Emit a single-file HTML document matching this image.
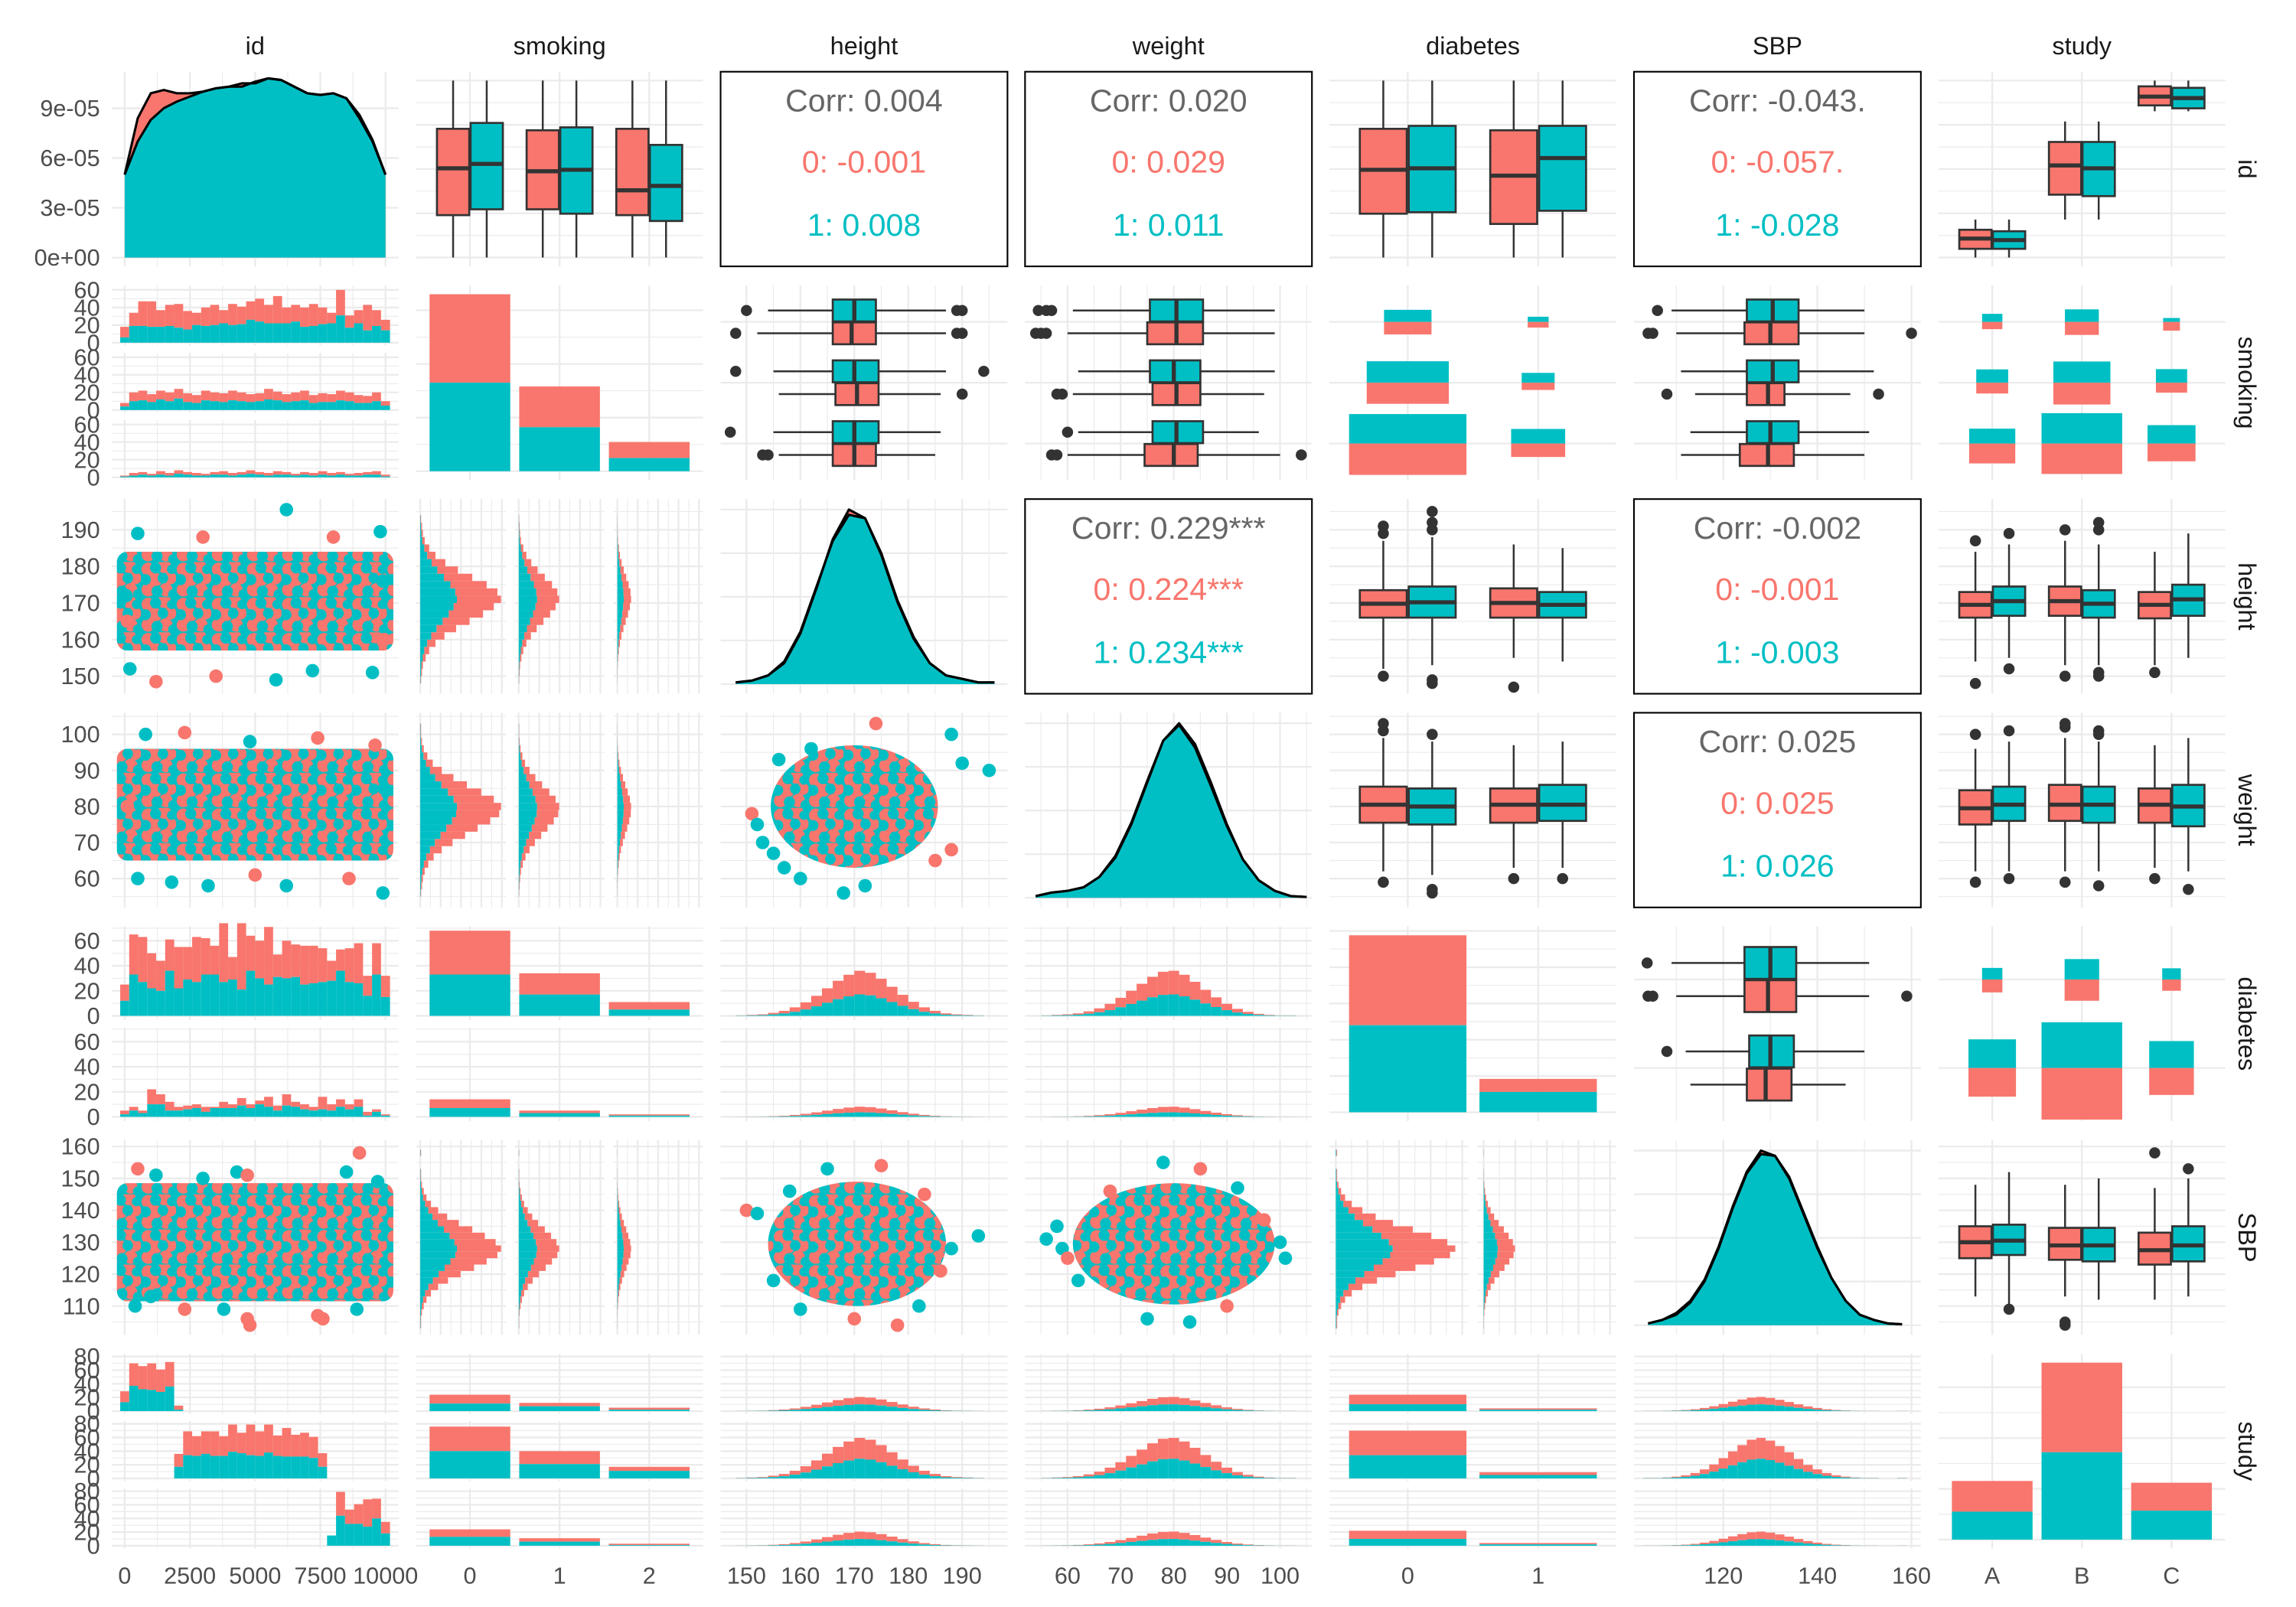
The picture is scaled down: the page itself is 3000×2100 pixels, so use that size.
<!DOCTYPE html>
<html><head><meta charset="utf-8"><title>Pairs plot</title>
<style>
html,body{margin:0;padding:0;background:#fff;}
svg{display:block;}
text{font-family:"Liberation Sans",Arial,sans-serif;}
</style></head>
<body>
<svg id="chart" width="3000" height="2100" viewBox="0 0 1568 1098">
<defs>
<pattern id="mix" width="24" height="24" patternUnits="userSpaceOnUse">
<rect width="24" height="24" fill="#00BFC4"/>
<circle cx="5" cy="5" r="4.6" fill="#F8766D"/>
<circle cx="16" cy="3" r="4.6" fill="#F8766D"/>
<circle cx="10" cy="12" r="4.6" fill="#F8766D"/>
<circle cx="20" cy="11" r="4.3" fill="#F8766D"/>
<circle cx="5" cy="19" r="4.6" fill="#F8766D"/>
<circle cx="17" cy="19" r="4.6" fill="#F8766D"/>
<circle cx="10" cy="4" r="3.8" fill="#00BFC4"/>
<circle cx="3" cy="12" r="3.8" fill="#00BFC4"/>
<circle cx="15" cy="11" r="3.6" fill="#00BFC4"/>
<circle cx="11" cy="20" r="3.8" fill="#00BFC4"/>
<circle cx="21" cy="5" r="3.2" fill="#00BFC4"/>
<circle cx="22" cy="22" r="3.4" fill="#00BFC4"/>
</pattern>
</defs>
</svg>
<script>
const NS='http://www.w3.org/2000/svg';
const svg=document.getElementById('chart');
const RED='#F8766D', TEAL='#00BFC4', DARK='#333333';
const PX0=76, PY0=49, SX=208, SY=146, PW=196, PH=133;

// ---------- DATA ----------
const VARS=['id','smoking','height','weight','diabetes','SBP','study'];
const LEVELS={smoking:['0','1','2'],diabetes:['0','1'],study:['A','B','C']};
const XDOM={id:[-500,10500],height:[145.2,198.4],weight:[52,106],SBP:[101,162]};
const XMAJ={id:[0,2500,5000,7500,10000],height:[150,160,170,180,190],weight:[60,70,80,90,100],SBP:[120,140,160]};
const YMAJ={id:[0,2500,5000,7500,10000],height:[150,160,170,180,190],weight:[60,70,80,90,100],SBP:[110,120,130,140,150,160]};
const XLABELS={id:['0','2500','5000','7500','10000'],height:['150','160','170','180','190'],weight:['60','70','80','90','100'],SBP:['120','140','160']};

// densities
const idDensGrid=[0,500,1000,1500,2000,2500,3000,3500,4000,4500,5000,5500,6000,6500,7000,7500,8000,8500,9000,9500,10000];
const idDensRed=[5.0,8.4,9.9,10.1,9.9,9.9,10.0,10.2,10.3,10.5,10.5,10.8,10.7,10.3,9.9,9.8,9.9,9.6,8.6,7.1,5.0];
const idDensTeal=[5.0,7.0,8.3,9.0,9.4,9.7,10.0,10.2,10.3,10.3,10.6,10.8,10.7,10.3,9.9,9.8,9.9,9.6,8.4,7.0,5.0];
const idDensTicks=[0,3,6,9];
const idDensTickLabels=['0e+00','3e-05','6e-05','9e-05'];
const heightDensGrid=[148,151,154,157,160,163,166,169,172,175,178,181,184,187,190,193,196];
const heightDensRed=[0.01,0.02,0.05,0.12,0.29,0.55,0.83,1.0,0.95,0.74,0.47,0.26,0.12,0.05,0.03,0.01,0.01];
const heightDensTeal=[0.01,0.02,0.05,0.13,0.30,0.56,0.82,0.97,0.95,0.75,0.48,0.27,0.12,0.05,0.03,0.01,0.01];
const weightDensGrid=[54,57,60,63,66,69,72,75,78,81,84,87,90,93,96,99,102,105];
const weightDensRed=[0.01,0.03,0.04,0.06,0.12,0.23,0.42,0.66,0.9,1.0,0.88,0.66,0.42,0.22,0.1,0.04,0.01,0.005];
const weightDensTeal=[0.01,0.03,0.04,0.06,0.12,0.24,0.43,0.67,0.9,0.99,0.86,0.64,0.41,0.22,0.1,0.04,0.01,0.005];
const sbpDensGrid=[104,107,110,113,116,119,122,125,128,131,134,137,140,143,146,149,152,155,158];
const sbpDensRed=[0.01,0.03,0.07,0.14,0.26,0.45,0.68,0.88,1.0,0.97,0.84,0.64,0.44,0.27,0.14,0.06,0.03,0.01,0.005];
const sbpDensTeal=[0.01,0.03,0.06,0.13,0.25,0.44,0.67,0.87,0.98,0.97,0.85,0.65,0.45,0.27,0.14,0.06,0.03,0.01,0.005];

// histogram shapes (bin counts, full sample)
const heightShape=[1,2,3,6,10,17,27,40,55,70,82,90,86,74,58,42,28,17,10,5,3,2,1,0];
const heightBin0=148, heightBinW=2;
const weightShape=[1,2,3,5,9,15,24,36,50,64,78,88,90,82,68,52,37,24,14,8,4,2,1,1,0];
const weightBin0=55, weightBinW=2;
const sbpShape=[1,1,2,4,7,12,20,31,45,60,74,86,90,84,72,58,43,30,20,12,7,4,2,1,1,0,0,1];
const sbpBin0=103, sbpBinW=2;
const shareSmokRed=[0.24,0.12,0.04], shareSmokTeal=[0.2,0.1,0.035];
const shareDiabHRed=[0.22,0.06], shareDiabHTeal=[0.2,0.05];
const shareDiabVRed=[0.21,0.05], shareDiabVTeal=[0.19,0.04];
const shareStudyRed=[0.12,0.34,0.12], shareStudyTeal=[0.11,0.32,0.11];

// id histograms (30 bins)
const idSmokTot=[[18,34,47,47,37,43,44,36,34,40,43,37,44,41,47,50,43,53,40,43,40,44,40,34,60,31,37,43,37,26],
 [8,20,22,18,22,20,24,19,17,22,20,19,22,20,18,19,24,21,18,20,22,17,19,18,22,20,17,16,20,10],
 [2,5,6,4,7,5,8,6,5,4,6,7,5,6,8,6,5,7,6,4,6,5,7,5,6,4,5,6,7,3]];
const idSmokTeal=[[6,19,19,18,18,19,17,15,20,19,20,22,20,21,26,24,22,22,22,24,18,19,21,22,31,17,22,14,19,14],
 [4,10,11,9,12,10,13,9,8,11,10,9,11,10,9,10,12,11,9,10,11,8,9,9,11,10,8,8,10,5],
 [1,2,3,2,3,2,4,3,2,2,3,3,2,3,4,3,2,3,3,2,3,2,3,2,3,2,2,3,3,1]];
const idDiabTot=[[25,65,63,50,44,61,55,55,63,62,56,74,47,74,64,60,71,49,60,57,56,56,54,44,53,54,58,32,58,32],
 [5,8,5,22,18,12,8,9,10,8,8,12,10,15,10,13,16,9,18,12,10,8,16,10,14,10,14,4,6,2]];
const idDiabTeal=[[12,33,27,22,20,36,22,29,27,33,33,27,29,21,36,30,25,31,30,31,25,26,27,28,36,27,26,16,33,15],
 [2,5,3,10,10,5,5,6,7,4,7,7,7,9,7,10,8,5,9,8,6,5,6,5,8,6,8,1,4,1]];
const idStudyTot=[[29,70,66,70,61,72,8,0,0,0,0,0,0,0,0,0,0,0,0,0,0,0,0,0,0,0,0,0,0,0],
 [0,0,0,0,0,0,36,69,62,69,69,62,79,67,79,69,79,63,74,64,67,61,37,0,0,0,0,0,0,0],
 [0,0,0,0,0,0,0,0,0,0,0,0,0,0,0,0,0,0,0,0,0,0,0,15,79,53,61,68,69,35]];
const idStudyTeal=[[13,37,32,31,28,36,2,0,0,0,0,0,0,0,0,0,0,0,0,0,0,0,0,0,0,0,0,0,0,0],
 [0,0,0,0,0,0,17,34,33,36,33,33,39,37,34,33,38,33,32,32,32,30,17,0,0,0,0,0,0,0],
 [0,0,0,0,0,0,0,0,0,0,0,0,0,0,0,0,0,0,0,0,0,0,0,15,44,32,32,28,40,18]];

// bar charts
const smokTot=[660,316,109], smokTeal=[330,164,49];
const diabTot=[1220,230], diabTeal=[600,140];
const studyTot=[231,697,224], studyTeal=[110,344,114];
const smokByDiabTot=[[68,34,11],[14,5,2]], smokByDiabTeal=[[33,17,5],[7,3,1]];
const smokByStudyTot=[[24,12,5],[76,40,17],[24,11,3]], smokByStudyTeal=[[11,7,2],[40,21,11],[13,6,1]];
const diabByStudyTot=[[24,4],[70,9],[22,4]], diabByStudyTeal=[[10,2],[34,5],[10,2]];

// ratio plots [yLevel][xLevel]
const ratioSmokDiabRed=[[340,67],[160,22],[55,11]], ratioSmokDiabTeal=[[320,73],[163,30],[53,10]];
const ratioSmokStudyRed=[[56,150,52],[21,76,19],[9,27,9]], ratioSmokStudyTeal=[[42,150,54],[26,74,26],[10,26,4]];
const ratioDiabStudyRed=[[52,159,46],[10,28,8]], ratioDiabStudyTeal=[[52,141,46],[9,27,8]];

// boxplots: [level][red,teal] = [lo,q1,med,q3,hi]
const boxIdSmok=[[[0,2395,5041,7274,10000],[0,2725,5289,7605,10000]],[[0,2725,4876,7191,10000],[0,2477,4958,7357,10000]],[[0,2395,3800,7274,10000],[0,2064,4049,6364,10000]]];
const boxIdDiab=[[[0,2477,4958,7274,10000],[0,2560,5041,7439,10000]],[[0,1898,4627,7191,10000],[0,2643,5620,7439,10000]]];
const boxIdStudy=[[[0,492,1071,1568,2146],[0,492,985,1485,2146]],[[2146,3552,5206,6530,7687],[2146,3470,5041,6530,7687]],[[8266,8597,9093,9672,10000],[8266,8432,9010,9589,10000]]];
const boxHtDiab=[[[152,166,169.8,173.5,187],[153,166,170.2,174.5,188]],[[155,166,170,174,186],[154,166,169.5,173,185]]];
const outHtDiab=[[[150,189,191],[149,148,190,192,195]],[[147],[]]];
const boxHtStudy=[[[154,166,169.5,173,184],[155,166.5,170.5,174.5,186]],[[153,166.5,170.5,174.5,187],[153,166,169.8,173.5,186]],[[153,165.8,169.5,173,184],[155,166.5,171,175,189]]];
const outHtStudy=[[[148,187],[152,189]],[[150,190],[150,151,190,192]],[[151],[]]];
const boxWtDiab=[[[62,75.5,80.5,85.5,99],[61,75,80,85,98]],[[63,75.5,80.5,85,97],[63,76,80.5,86,98]]];
const outWtDiab=[[[59,101,103],[57,56,100]],[[60],[60]]];
const boxWtStudy=[[[62,75,79.5,84.5,96],[62,76,80.5,85.5,98]],[[62,76,80.5,86,99],[62,75.5,80.5,85.5,98]],[[63,75.5,80.5,85,97],[62,74.5,80,86,99]]];
const outWtStudy=[[[59,100],[60,101]],[[59,103,102],[58,101,100]],[[60],[57]]];
const boxSbpStudy=[[[113,125,130,135,148],[110,126,130.5,135.5,152]],[[113,124.5,129,134.5,148],[112,124,129,134.5,150]],[[112,123,127.5,133,147],[113,124,129,135,150]]];
const outSbpStudy=[[[],[109]],[[104,105],[]],[[158],[153]]];
// horizontal boxes (level index 0 = bottom)
const hboxHtSmok=[[[156,166,170,174,185],[155,166,170,174.5,186]],[[156,166.5,170.5,174.5,186],[155,166,170,174.5,187]],[[152,166,169.5,174,187],[154,166,170,174,187]]];
const houtHtSmok=[[[153,154],[147]],[[190],[148,194]],[[148,189,190],[150,189,190]]];
const hboxWtSmok=[[[60,74.5,80,84.5,100],[62,76,80.5,85.5,96]],[[61,76,80.5,85,97],[62,75.5,80,85,99]],[[60,75,80.5,85.5,99],[61,75.5,80.5,85.5,99]]];
const houtWtSmok=[[[57,58,104],[60]],[[58,59],[]],[[54,55,56],[54.5,56,57]]];
const hboxSbpSmok=[[[111,123.5,129.5,135,150],[113,125,130,136,151]],[[114,125,129.5,133,147],[111,125,130.5,136,152]],[[110,124.5,130,136,150],[109,125,130.5,136,150]]];
const houtSbpSmok=[[[],[]],[[108,153],[]],[[104,105,160],[106]]];
const hboxSbpDiab=[[[113,125,129,134.5,146],[112,125.5,130,135,150]],[[110,124.5,129.5,135.5,151],[109,124.5,130,135.5,151]]];
const houtSbpDiab=[[[],[108]],[[104,105,159],[103.8]]];

// correlations
const corrText={'0-2':['Corr: 0.004','0: -0.001','1: 0.008'],'0-3':['Corr: 0.020','0: 0.029','1: 0.011'],'0-5':['Corr: -0.043.','0: -0.057.','1: -0.028'],
 '2-3':['Corr: 0.229***','0: 0.224***','1: 0.234***'],'2-5':['Corr: -0.002','0: -0.001','1: -0.003'],'3-5':['Corr: 0.025','0: 0.025','1: 0.026']};

// scatter clouds [cx,cy,rx,ry] in data units, and outlier points
const cloudIdHt=[5000,170.5,5300,13.5], cloudIdWt=[5000,80.5,5300,15.5], cloudIdSbp=[5000,130,5300,18.5];
const cloudHtWt=[170,80,15.5,17], cloudHtSbp=[170.5,129.5,16.5,19.5], cloudWtSbp=[80,129.5,19,19];
const ptIdHtX=[6200,500,9800,3000,8000,1200,5800,200,9500,3500,7200,100,9900,50,9950], ptIdHtY=[195.5,189,189.5,188,188,148.5,149,152,151,150,151.5,165,176,172,160], ptIdHtC=[1,1,1,0,0,0,1,1,1,0,1,0,1,1,0];
const ptIdWtX=[800,2300,9600,4800,7400,1800,3200,6200,9900,500,8600,5000,100,9950], ptIdWtY=[100,100.5,97,98,99,59,58,58,56,60,60,61,80,85], ptIdWtC=[1,0,0,1,0,1,1,1,1,1,0,0,0,1];
const ptIdSbpX=[500,1200,9000,8500,3000,4300,4700,9700,4800,4700,7400,7600,400,2300,3800,8900,1000], ptIdSbpY=[153,151,158,152,150,152,151,149,104,106,107,106,110,109,109,109,113], ptIdSbpC=[0,1,0,1,1,1,0,1,0,0,0,0,1,0,1,1,1];
const ptHtWtX=[174,188,195,190,151,152,153,155,157,160,168,172,185,188,162,156], ptHtWtY=[103,100,90,92,78,75,70,67,63,60,56,58,65,68,96,93], ptHtWtC=[0,1,1,1,0,1,1,1,1,1,1,1,0,0,1,1];
const ptHtSbpX=[150,152,193,188,165,175,170,178,160,182,155,186,158,183], ptHtSbpY=[140,139,132,128,153,154,106,104,109,110,118,121,146,145], ptHtSbpC=[0,1,1,1,1,0,0,0,1,1,1,0,1,0];
const ptWtSbpX=[56,58,59,60,62,100,101,97,78,85,75,83,90,68,92], ptWtSbpY=[131,135,128,125,118,130,125,137,155,153,106,105,110,146,147], ptWtSbpC=[1,1,1,0,1,1,1,0,1,0,1,1,0,0,1];

// ---------- HELPERS ----------
function add(parent, tag, attrs, name){
  const e=document.createElementNS(NS,tag);
  for(const k in attrs) e.setAttribute(k,attrs[k]);
  
  
  parent.appendChild(e);
  return e;
}
function lin(d0,d1,r0,r1){return v=>r0+(v-d0)/(d1-d0)*(r1-r0);}
function discX(x0,w,n){return i=>x0+(i+0.6)/(n+0.2)*w;}
function discY(y0,h,n){return i=>y0+h-(i+0.6)/(n+0.2)*h;}
function minorsOf(maj,dom){const s=maj[1]-maj[0];const r=[];for(let v=maj[0]-s/2;v<=dom[1];v+=s){if(v>=dom[0])r.push(v);}return r;}
function gridLines(g,x0,y0,w,h,xmaj,xmin,ymaj,ymin){
  xmin.forEach(x=>add(g,'line',{x1:x,x2:x,y1:y0,y2:y0+h,stroke:'#EBEBEB','stroke-width':0.6},'grid-minor-x'));
  ymin.forEach(y=>add(g,'line',{x1:x0,x2:x0+w,y1:y,y2:y,stroke:'#EBEBEB','stroke-width':0.6},'grid-minor-y'));
  xmaj.forEach(x=>add(g,'line',{x1:x,x2:x,y1:y0,y2:y0+h,stroke:'#EBEBEB','stroke-width':1.2},'grid-major-x'));
  ymaj.forEach(y=>add(g,'line',{x1:x0,x2:x0+w,y1:y,y2:y,stroke:'#EBEBEB','stroke-width':1.2},'grid-major-y'));
}
function contXSpec(v,x0,w){const f=lin(XDOM[v][0],XDOM[v][1],x0,x0+w);return {f,maj:XMAJ[v].map(f),min:minorsOf(XMAJ[v],XDOM[v]).map(f)};}
function contYSpec(v,y0,h){const f=lin(XDOM[v][0],XDOM[v][1],y0+h,y0);return {f,maj:YMAJ[v].map(f),min:minorsOf(YMAJ[v],XDOM[v]).map(f)};}
function discXSpec(v,x0,w){const n=LEVELS[v].length;const f=discX(x0,w,n);return {f,maj:LEVELS[v].map((_,i)=>f(i)),min:[],du:w/(n+0.2)};}
function discYSpec(v,y0,h){const n=LEVELS[v].length;const f=discY(y0,h,n);return {f,maj:LEVELS[v].map((_,i)=>f(i)),min:[],du:h/(n+0.2)};}
function facetsV(y0,n){const gap=5,fh=(PH-gap*(n-1))/n;const r=[];for(let k=0;k<n;k++)r.push({y:y0+k*(fh+gap),h:fh});return r;}
function facetsH(x0,n){const gap=6,fw=(PW-gap*(n-1))/n;const r=[];for(let k=0;k<n;k++)r.push({x:x0+k*(fw+gap),w:fw});return r;}
function countMaj(R){const m=[];for(let v=0;v<=R;v+=20)m.push(v);return m;}
function countMin(R){const m=[];for(let v=10;v<=R*1.05;v+=20)m.push(v);return m;}

// ---------- PANELS ----------
function densityPanel(g,x0,y0,v,grid,red,teal,dom,ymaj){
  const X=contXSpec(v,x0,PW);
  const Y=lin(dom[0],dom[1],y0+PH,y0);
  gridLines(g,x0,y0,PW,PH,X.maj,X.min,ymaj.map(Y),[]);
  [[red,RED,'density-area-0'],[teal,TEAL,'density-area-1']].forEach(([vals,col,nm])=>{
    let d='M'+X.f(grid[0])+','+Y(0);
    grid.forEach((gx,i)=>{d+=' L'+X.f(gx).toFixed(2)+','+Y(vals[i]).toFixed(2);});
    d+=' L'+X.f(grid[grid.length-1])+','+Y(0)+' Z';
    add(g,'path',{d,fill:col},nm);
  });
  [[red,'density-line-0'],[teal,'density-line-1']].forEach(([vals,nm])=>{
    let d='';
    grid.forEach((gx,i)=>{d+=(i?' L':'M')+X.f(gx).toFixed(2)+','+Y(vals[i]).toFixed(2);});
    add(g,'path',{d,fill:'none',stroke:'#000','stroke-width':1.6,'stroke-linejoin':'round'},nm);
  });
}
function drawVBox(g,cx,bw,Y,s,col,outs,nm){
  add(g,'line',{x1:cx,x2:cx,y1:Y(s[0]),y2:Y(s[1]),stroke:DARK,'stroke-width':1.3},nm+'-whisker-low');
  add(g,'line',{x1:cx,x2:cx,y1:Y(s[3]),y2:Y(s[4]),stroke:DARK,'stroke-width':1.3},nm+'-whisker-high');
  add(g,'rect',{x:cx-bw/2,y:Y(s[3]),width:bw,height:Y(s[1])-Y(s[3]),fill:col,stroke:DARK,'stroke-width':1.4},nm+'-box');
  add(g,'line',{x1:cx-bw/2,x2:cx+bw/2,y1:Y(s[2]),y2:Y(s[2]),stroke:DARK,'stroke-width':2.8},nm+'-median');
  (outs||[]).forEach(o=>add(g,'circle',{cx,cy:Y(o),r:3.8,fill:DARK},nm+'-outlier'));
}
function drawHBox(g,cy,bh,X,s,col,outs,nm){
  add(g,'line',{y1:cy,y2:cy,x1:X(s[0]),x2:X(s[1]),stroke:DARK,'stroke-width':1.3},nm+'-whisker-low');
  add(g,'line',{y1:cy,y2:cy,x1:X(s[3]),x2:X(s[4]),stroke:DARK,'stroke-width':1.3},nm+'-whisker-high');
  add(g,'rect',{y:cy-bh/2,x:X(s[1]),height:bh,width:X(s[3])-X(s[1]),fill:col,stroke:DARK,'stroke-width':1.4},nm+'-box');
  add(g,'line',{y1:cy-bh/2,y2:cy+bh/2,x1:X(s[2]),x2:X(s[2]),stroke:DARK,'stroke-width':2.8},nm+'-median');
  (outs||[]).forEach(o=>add(g,'circle',{cy,cx:X(o),r:3.8,fill:DARK},nm+'-outlier'));
}
function vboxPanel(g,x0,y0,xv,yv,boxes,outs){
  const X=discXSpec(xv,x0,PW), Y=contYSpec(yv,y0,PH);
  gridLines(g,x0,y0,PW,PH,X.maj,X.min,Y.maj,Y.min);
  boxes.forEach((lv,i)=>{[0,1].forEach(k=>{
    const cx=X.f(i)+(k?0.1875:-0.1875)*X.du;
    drawVBox(g,cx,0.36*X.du,Y.f,lv[k],k?TEAL:RED,outs?outs[i][k]:[],'boxplot-'+LEVELS[xv][i]+'-'+k);
  });});
}
function hboxPanel(g,x0,y0,xv,yv,boxes,outs){
  const X=contXSpec(xv,x0,PW), Y=discYSpec(yv,y0,PH);
  gridLines(g,x0,y0,PW,PH,X.maj,X.min,Y.maj,Y.min);
  boxes.forEach((lv,i)=>{[0,1].forEach(k=>{
    const cy=Y.f(i)-(k?0.1875:-0.1875)*Y.du;
    drawHBox(g,cy,0.36*Y.du,X.f,lv[k],k?TEAL:RED,outs[i][k],'hboxplot-'+LEVELS[yv][i]+'-'+k);
  });});
}
function corrPanel(g,x0,y0,lines){
  add(g,'rect',{x:x0,y:y0,width:PW,height:PH,fill:'none',stroke:'#000','stroke-width':1.1},'corr-box');
  const cols=['#666666',RED,TEAL], offs=[27,69,112];
  lines.forEach((t,i)=>{const e=add(g,'text',{x:x0+PW/2,y:y0+offs[i],'text-anchor':'middle','font-size':21.5,fill:cols[i]},i?'corr-group-'+(i-1):'corr-overall');e.textContent=t;});
}
function scatterPanel(g,x0,y0,xv,yv,cloud,isRect,px,py,pc){
  const X=contXSpec(xv,x0,PW), Y=contYSpec(yv,y0,PH);
  gridLines(g,x0,y0,PW,PH,X.maj,X.min,Y.maj,Y.min);
  const cx=X.f(cloud[0]), cy=Y.f(cloud[1]);
  const rx=Math.abs(X.f(cloud[0]+cloud[2])-cx), ry=Math.abs(Y.f(cloud[1]+cloud[3])-cy);
  if(isRect) add(g,'rect',{x:cx-rx,y:cy-ry,width:2*rx,height:2*ry,rx:7,ry:7,fill:'url(#mix)'},'point-cloud');
  else add(g,'ellipse',{cx,cy,rx,ry,fill:'url(#mix)'},'point-cloud');
  px.forEach((v,i)=>add(g,'circle',{cx:X.f(v),cy:Y.f(py[i]),r:4.6,fill:pc[i]?TEAL:RED},'point'));
}
function barDiag(g,x0,y0,v,tot,teal,ymaj){
  const X=discXSpec(v,x0,PW); const R=Math.max(...tot);
  const Y=lin(-0.05*R,1.05*R,y0+PH,y0);
  gridLines(g,x0,y0,PW,PH,X.maj,[],ymaj.map(Y),ymaj.slice(0,-1).map(m=>Y(m+(ymaj[1]-ymaj[0])/2)));
  tot.forEach((t,i)=>{const bw=0.9*X.du,x=X.f(i)-bw/2;
    add(g,'rect',{x,y:Y(t),width:bw,height:Y(teal[i])-Y(t),fill:RED},'bar-'+LEVELS[v][i]+'-0');
    add(g,'rect',{x,y:Y(teal[i]),width:bw,height:Y(0)-Y(teal[i]),fill:TEAL},'bar-'+LEVELS[v][i]+'-1');
  });
}
function facetBars(g,x0,y0,xv,nF,R,tot,teal){
  const fs=facetsV(y0,nF);
  fs.forEach((f,k)=>{
    const X=discXSpec(xv,x0,PW); const Y=lin(-0.05*R,1.05*R,f.y+f.h,f.y);
    gridLines(g,x0,f.y,PW,f.h,X.maj,[],countMaj(R).map(Y),countMin(R).map(Y));
    tot[k].forEach((t,i)=>{const bw=0.9*X.du,x=X.f(i)-bw/2;
      add(g,'rect',{x,y:Y(t),width:bw,height:Y(teal[k][i])-Y(t),fill:RED},'facet-bar-0');
      add(g,'rect',{x,y:Y(teal[k][i]),width:bw,height:Y(0)-Y(teal[k][i]),fill:TEAL},'facet-bar-1');
    });
  });
}
function facetHistV(g,x0,y0,xv,nF,R,totArr,tealArr,binLeft,binW){
  const fs=facetsV(y0,nF);
  fs.forEach((f,k)=>{
    const X=contXSpec(xv,x0,PW); const Y=lin(-0.05*R,1.05*R,f.y+f.h,f.y);
    gridLines(g,x0,f.y,PW,f.h,X.maj,X.min,countMaj(R).map(Y),countMin(R).map(Y));
    totArr[k].forEach((t,i)=>{ if(t<=0)return;
      const xa=X.f(binLeft+i*binW), xb=X.f(binLeft+(i+1)*binW);
      add(g,'rect',{x:xa,y:Y(t),width:xb-xa,height:Y(tealArr[k][i])-Y(t),fill:RED},'hist-bar-0');
      add(g,'rect',{x:xa,y:Y(tealArr[k][i]),width:xb-xa,height:Y(0)-Y(tealArr[k][i]),fill:TEAL},'hist-bar-1');
    });
  });
}
function shapeHistV(g,x0,y0,xv,nF,R,shape,bin0,binW,shR,shT){
  const tot=[],tl=[];
  for(let k=0;k<nF;k++){tot.push(shape.map(s=>s*(shR[k]+shT[k])));tl.push(shape.map(s=>s*shT[k]));}
  facetHistV(g,x0,y0,xv,nF,R,tot,tl,bin0,binW);
}
function shapeHistH(g,x0,y0,yv,nF,R,shape,bin0,binW,shR,shT){
  const fs=facetsH(x0,nF);
  fs.forEach((f,k)=>{
    const Y=contYSpec(yv,y0,PH); const X=lin(-0.05*R,1.05*R,f.x,f.x+f.w);
    const cm=[0,10,20,30,40], cn=[5,15,25,35];
    gridLines(g,f.x,y0,f.w,PH,cm.map(X),cn.map(X),Y.maj,Y.min);
    shape.forEach((s,i)=>{ if(s<=0)return;
      const t=s*shT[k], tot=s*(shR[k]+shT[k]);
      const ya=Y.f(bin0+(i+1)*binW), yb=Y.f(bin0+i*binW);
      add(g,'rect',{x:X(0),y:ya,width:X(t)-X(0),height:yb-ya,fill:TEAL},'hhist-bar-1');
      add(g,'rect',{x:X(t),y:ya,width:X(tot)-X(t),height:yb-ya,fill:RED},'hhist-bar-0');
    });
  });
}
function ratioPanel(g,x0,y0,xv,yv,red,teal,h0){
  const X=discXSpec(xv,x0,PW), Y=discYSpec(yv,y0,PH);
  gridLines(g,x0,y0,PW,PH,X.maj,[],Y.maj,[]);
  let mx=0; red.forEach((row,j)=>row.forEach((r,i)=>{mx=Math.max(mx,r+teal[j][i]);}));
  red.forEach((row,j)=>row.forEach((r,i)=>{
    const t=teal[j][i], s=Math.sqrt((r+t)/mx);
    const w=0.9*X.du*s, h=h0*Y.du*s, tf=t/(r+t);
    const cx=X.f(i), cy=Y.f(j);
    add(g,'rect',{x:cx-w/2,y:cy-h*tf,width:w,height:h*tf,fill:TEAL},'ratio-cell-1');
    add(g,'rect',{x:cx-w/2,y:cy,width:w,height:h*(1-tf),fill:RED},'ratio-cell-0');
  }));
}

// ---------- BUILD ----------
function panelGroup(r,c){
  const g=add(svg,'g',{},'panel-'+VARS[r]+'-vs-'+VARS[c]);
  return [g,PX0+c*SX,PY0+r*SY];
}
let g,x0,y0;
// row 0 (id)
[g,x0,y0]=panelGroup(0,0); densityPanel(g,x0,y0,'id',idDensGrid,idDensRed,idDensTeal,[-0.53,11.2],[0,3,6,9]);
[g,x0,y0]=panelGroup(0,1); vboxPanel(g,x0,y0,'smoking','id',boxIdSmok,null);
[g,x0,y0]=panelGroup(0,2); corrPanel(g,x0,y0,corrText['0-2']);
[g,x0,y0]=panelGroup(0,3); corrPanel(g,x0,y0,corrText['0-3']);
[g,x0,y0]=panelGroup(0,4); vboxPanel(g,x0,y0,'diabetes','id',boxIdDiab,null);
[g,x0,y0]=panelGroup(0,5); corrPanel(g,x0,y0,corrText['0-5']);
[g,x0,y0]=panelGroup(0,6); vboxPanel(g,x0,y0,'study','id',boxIdStudy,null);
// row 1 (smoking)
[g,x0,y0]=panelGroup(1,0); facetHistV(g,x0,y0,'id',3,62,idSmokTot,idSmokTeal,-10000/58,10000/29);
[g,x0,y0]=panelGroup(1,1); barDiag(g,x0,y0,'smoking',smokTot,smokTeal,[0,200,400,600]);
[g,x0,y0]=panelGroup(1,2); hboxPanel(g,x0,y0,'height','smoking',hboxHtSmok,houtHtSmok);
[g,x0,y0]=panelGroup(1,3); hboxPanel(g,x0,y0,'weight','smoking',hboxWtSmok,houtWtSmok);
[g,x0,y0]=panelGroup(1,4); ratioPanel(g,x0,y0,'diabetes','smoking',ratioSmokDiabRed,ratioSmokDiabTeal,1.0);
[g,x0,y0]=panelGroup(1,5); hboxPanel(g,x0,y0,'SBP','smoking',hboxSbpSmok,houtSbpSmok);
[g,x0,y0]=panelGroup(1,6); ratioPanel(g,x0,y0,'study','smoking',ratioSmokStudyRed,ratioSmokStudyTeal,1.0);
// row 2 (height)
[g,x0,y0]=panelGroup(2,0); scatterPanel(g,x0,y0,'id','height',cloudIdHt,true,ptIdHtX,ptIdHtY,ptIdHtC);
[g,x0,y0]=panelGroup(2,1); shapeHistH(g,x0,y0,'height',3,40,heightShape,heightBin0,heightBinW,shareSmokRed,shareSmokTeal);
[g,x0,y0]=panelGroup(2,2); densityPanel(g,x0,y0,'height',heightDensGrid,heightDensRed,heightDensTeal,[-0.055,1.06],[0,0.25,0.5,0.75,1]);
[g,x0,y0]=panelGroup(2,3); corrPanel(g,x0,y0,corrText['2-3']);
[g,x0,y0]=panelGroup(2,4); vboxPanel(g,x0,y0,'diabetes','height',boxHtDiab,outHtDiab);
[g,x0,y0]=panelGroup(2,5); corrPanel(g,x0,y0,corrText['2-5']);
[g,x0,y0]=panelGroup(2,6); vboxPanel(g,x0,y0,'study','height',boxHtStudy,outHtStudy);
// row 3 (weight)
[g,x0,y0]=panelGroup(3,0); scatterPanel(g,x0,y0,'id','weight',cloudIdWt,true,ptIdWtX,ptIdWtY,ptIdWtC);
[g,x0,y0]=panelGroup(3,1); shapeHistH(g,x0,y0,'weight',3,40,weightShape,weightBin0,weightBinW,shareSmokRed,shareSmokTeal);
[g,x0,y0]=panelGroup(3,2); scatterPanel(g,x0,y0,'height','weight',cloudHtWt,false,ptHtWtX,ptHtWtY,ptHtWtC);
[g,x0,y0]=panelGroup(3,3); densityPanel(g,x0,y0,'weight',weightDensGrid,weightDensRed,weightDensTeal,[-0.055,1.06],[0,0.25,0.5,0.75,1]);
[g,x0,y0]=panelGroup(3,4); vboxPanel(g,x0,y0,'diabetes','weight',boxWtDiab,outWtDiab);
[g,x0,y0]=panelGroup(3,5); corrPanel(g,x0,y0,corrText['3-5']);
[g,x0,y0]=panelGroup(3,6); vboxPanel(g,x0,y0,'study','weight',boxWtStudy,outWtStudy);
// row 4 (diabetes)
[g,x0,y0]=panelGroup(4,0); facetHistV(g,x0,y0,'id',2,68,idDiabTot,idDiabTeal,-10000/58,10000/29);
[g,x0,y0]=panelGroup(4,1); facetBars(g,x0,y0,'smoking',2,68,smokByDiabTot,smokByDiabTeal);
[g,x0,y0]=panelGroup(4,2); shapeHistV(g,x0,y0,'height',2,68,heightShape,heightBin0,heightBinW,shareDiabVRed,shareDiabVTeal);
[g,x0,y0]=panelGroup(4,3); shapeHistV(g,x0,y0,'weight',2,68,weightShape,weightBin0,weightBinW,shareDiabVRed,shareDiabVTeal);
[g,x0,y0]=panelGroup(4,4); barDiag(g,x0,y0,'diabetes',diabTot,diabTeal,[0,250,500,750,1000,1250]);
[g,x0,y0]=panelGroup(4,5); hboxPanel(g,x0,y0,'SBP','diabetes',hboxSbpDiab,houtSbpDiab);
[g,x0,y0]=panelGroup(4,6); ratioPanel(g,x0,y0,'study','diabetes',ratioDiabStudyRed,ratioDiabStudyTeal,1.1);
// row 5 (SBP)
[g,x0,y0]=panelGroup(5,0); scatterPanel(g,x0,y0,'id','SBP',cloudIdSbp,true,ptIdSbpX,ptIdSbpY,ptIdSbpC);
[g,x0,y0]=panelGroup(5,1); shapeHistH(g,x0,y0,'SBP',3,40,sbpShape,sbpBin0,sbpBinW,shareSmokRed,shareSmokTeal);
[g,x0,y0]=panelGroup(5,2); scatterPanel(g,x0,y0,'height','SBP',cloudHtSbp,false,ptHtSbpX,ptHtSbpY,ptHtSbpC);
[g,x0,y0]=panelGroup(5,3); scatterPanel(g,x0,y0,'weight','SBP',cloudWtSbp,false,ptWtSbpX,ptWtSbpY,ptWtSbpC);
[g,x0,y0]=panelGroup(5,4); shapeHistH(g,x0,y0,'SBP',2,40,sbpShape,sbpBin0,sbpBinW,shareDiabHRed,shareDiabHTeal);
[g,x0,y0]=panelGroup(5,5); densityPanel(g,x0,y0,'SBP',sbpDensGrid,sbpDensRed,sbpDensTeal,[-0.055,1.06],[0,0.25,0.5,0.75,1]);
[g,x0,y0]=panelGroup(5,6); vboxPanel(g,x0,y0,'study','SBP',boxSbpStudy,outSbpStudy);
// row 6 (study)
[g,x0,y0]=panelGroup(6,0); facetHistV(g,x0,y0,'id',3,80,idStudyTot,idStudyTeal,-10000/58,10000/29);
[g,x0,y0]=panelGroup(6,1); facetBars(g,x0,y0,'smoking',3,80,smokByStudyTot,smokByStudyTeal);
[g,x0,y0]=panelGroup(6,2); shapeHistV(g,x0,y0,'height',3,80,heightShape,heightBin0,heightBinW,shareStudyRed,shareStudyTeal);
[g,x0,y0]=panelGroup(6,3); shapeHistV(g,x0,y0,'weight',3,80,weightShape,weightBin0,weightBinW,shareStudyRed,shareStudyTeal);
[g,x0,y0]=panelGroup(6,4); facetBars(g,x0,y0,'diabetes',3,80,diabByStudyTot,diabByStudyTeal);
[g,x0,y0]=panelGroup(6,5); shapeHistV(g,x0,y0,'SBP',3,80,sbpShape,sbpBin0,sbpBinW,shareStudyRed,shareStudyTeal);
[g,x0,y0]=panelGroup(6,6); barDiag(g,x0,y0,'study',studyTot,studyTeal,[0,200,400,600]);

// ---------- LABELS ----------
const lab=add(svg,'g',{},'labels');
VARS.forEach((v,i)=>{
  const t=add(lab,'text',{x:PX0+i*SX+PW/2,y:37,'text-anchor':'middle','font-size':17,fill:'#1A1A1A'},'column-strip-'+v); t.textContent=v;
  const cy=PY0+i*SY+PH/2;
  const r=add(lab,'text',{x:1529,y:cy,'text-anchor':'middle','font-size':17,fill:'#1A1A1A',transform:'rotate(90 1529 '+cy+')'},'row-strip-'+v); r.textContent=v;
});
function leftLabel(y,txt){const t=add(lab,'text',{x:68,y:y+5.5,'text-anchor':'end','font-size':16,fill:'#4D4D4D'},'y-tick-label');t.textContent=txt;}
function botLabel(x,txt){const t=add(lab,'text',{x,y:1082,'text-anchor':'middle','font-size':16,fill:'#4D4D4D'},'x-tick-label');t.textContent=txt;}
{const Y=lin(-0.53,11.2,PY0+PH,PY0); idDensTicks.forEach((v,i)=>leftLabel(Y(v),idDensTickLabels[i]));}
[[1,3,62],[4,2,68],[6,3,80]].forEach(([r,n,R])=>{
  facetsV(PY0+r*SY,n).forEach(f=>{const Y=lin(-0.05*R,1.05*R,f.y+f.h,f.y);countMaj(R).forEach(m=>leftLabel(Y(m),String(m)));});
});
[[2,'height'],[3,'weight'],[5,'SBP']].forEach(([r,v])=>{const Y=contYSpec(v,PY0+r*SY,PH);YMAJ[v].forEach(m=>leftLabel(Y.f(m),String(m)));});
VARS.forEach((v,c)=>{
  const x0=PX0+c*SX;
  if(LEVELS[v]){const X=discXSpec(v,x0,PW);LEVELS[v].forEach((l,i)=>botLabel(X.f(i),l));}
  else{const X=contXSpec(v,x0,PW);XMAJ[v].forEach((m,i)=>botLabel(X.f(m),XLABELS[v][i]));}
});
</script>
</body></html>
